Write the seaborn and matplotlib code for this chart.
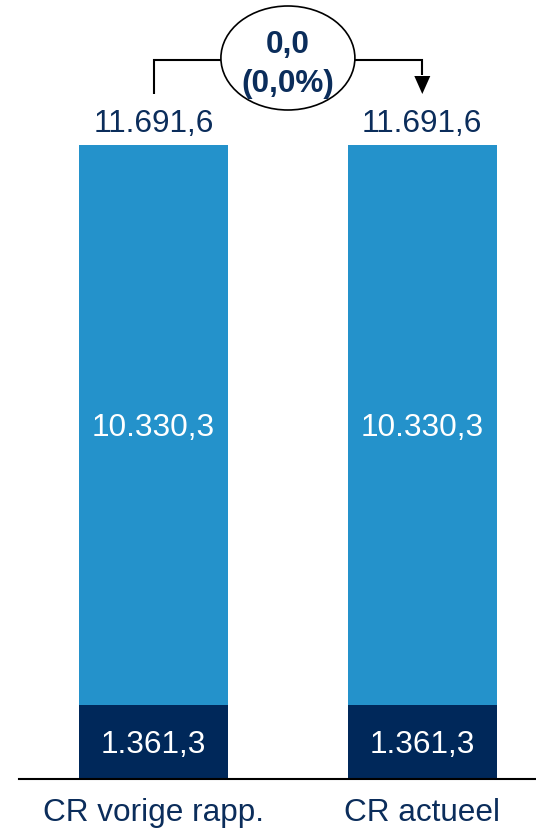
import matplotlib
matplotlib.use("Agg")
import matplotlib.pyplot as plt
import seaborn as sns
import pandas as pd
from matplotlib.patches import Ellipse, Polygon

# ---- data ----
categories = ["CR vorige rapp.", "CR actueel"]
base_values = [1361.3, 1361.3]
upper_values = [10330.3, 10330.3]
total_values = [11691.6, 11691.6]
total_labels = ["11.691,6", "11.691,6"]
upper_labels = ["10.330,3", "10.330,3"]
base_labels = ["1.361,3", "1.361,3"]
delta_label = "0,0"
delta_pct_label = "(0,0%)"

LIGHT = "#2492CB"
DARK = "#00285A"
TEXT = "#0B2D5B"
FS = 22.7

sns.set_theme(style="white")
plt.rcParams['font.family'] = ['Liberation Sans', 'DejaVu Sans']

W, H = 536, 830
fig = plt.figure(figsize=(W / 100, H / 100), dpi=100)
axis_y_px = 779
left_px = 19.3
ax = fig.add_axes([left_px / W, (H - axis_y_px) / H, 1 - left_px / W, axis_y_px / H])

df = pd.DataFrame({"cat": categories, "total": total_values, "base": base_values})
sns.barplot(data=df, x="cat", y="total", color=LIGHT, width=0.554, saturation=1,
            errorbar=None, ax=ax, edgecolor="none", linewidth=0)
sns.barplot(data=df, x="cat", y="base", color=DARK, width=0.554, saturation=1,
            errorbar=None, ax=ax, edgecolor="none", linewidth=0)

# scales
bar_c0, spacing = 153.5, 268.8
ax.set_xlim((left_px - bar_c0) / spacing, (W - bar_c0) / spacing)
max_total = max(total_values)
bar_top_px = 145
ymax = max_total * axis_y_px / (axis_y_px - bar_top_px)
ax.set_ylim(0, ymax)
upp = ymax / axis_y_px          # data units per pixel (y)
xpp = 1 / spacing               # data units per pixel (x)

for s in ["top", "right", "left"]:
    ax.spines[s].set_visible(False)
ax.spines["bottom"].set_color("black")
ax.spines["bottom"].set_linewidth(1.5)
ax.set_yticks([])
ax.set_xlabel("")
ax.set_ylabel("")
ax.tick_params(axis="x", length=0, pad=13.5, labelsize=FS, labelcolor=TEXT)

# labels
for i in range(len(categories)):
    t = total_values[i]
    b = base_values[i]
    ax.text(i, t + 13 * upp, total_labels[i], ha="center", va="baseline",
            fontsize=FS, color=TEXT)
    ax.text(i, (b + t) / 2 - 10.9 * upp, upper_labels[i], ha="center", va="baseline",
            fontsize=FS, color="white")
    ax.text(i, b / 2 - 10.9 * upp, base_labels[i], ha="center", va="baseline",
            fontsize=FS, color="white")

# delta connector
t0, t1 = total_values[0], total_values[1]
ref = max(t0, t1)
y_line = ref + 85 * upp
y_end = ref + 51 * upp
ex, ey = 0.5, ref + 87 * upp
ew, eh = 134 * xpp, 104 * upp
ax.plot([0, 0, ex - ew / 2], [y_end, y_line, y_line], color="black", lw=1.5,
        solid_capstyle="butt", solid_joinstyle="miter")
ax.plot([ex + ew / 2, 1, 1], [y_line, y_line, ref + 70 * upp], color="black", lw=1.5,
        solid_capstyle="butt", solid_joinstyle="miter")
ax.add_patch(Polygon([(1 - 8 * xpp, ref + 69 * upp), (1 + 8 * xpp, ref + 69 * upp),
                      (1, y_end)], closed=True, facecolor="black", edgecolor="none"))
ax.add_patch(Ellipse((ex, ey), ew, eh, facecolor="white", edgecolor="black", lw=1.2, zorder=3))
ax.text(ex, ref + 91.7 * upp, delta_label, ha="center", va="baseline", fontsize=FS,
        fontweight="bold", color=TEXT, zorder=4)
ax.text(ex, ref + 53.3 * upp, delta_pct_label, ha="center", va="baseline", fontsize=FS,
        fontweight="bold", color=TEXT, zorder=4)

fig.savefig("out.png", dpi=100)
